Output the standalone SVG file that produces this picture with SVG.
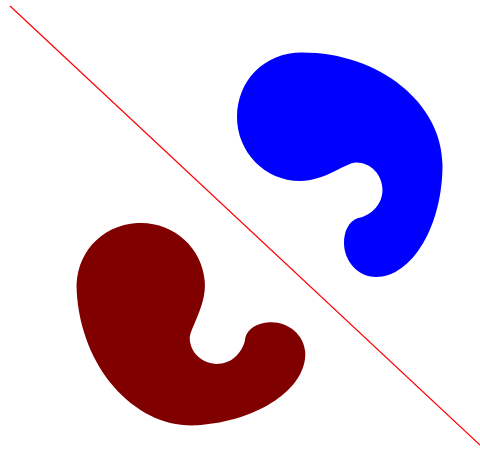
<svg xmlns="http://www.w3.org/2000/svg" xmlns:xlink="http://www.w3.org/1999/xlink" width="480" height="451" viewBox="0 0 480 451">
  <style>
    .mirror { stroke: #ff0000; stroke-width: 1.2; fill: none; }
    .original { fill: #0000ff; stroke: none; }
    .image { fill: #800000; stroke: none; }
  </style>
  <defs>
    <path id="kidney" d="M 237 117 C 237 81 264 52.5 302 52.5 C 380 52.5 442.5 104 442.5 165 C 442.5 226 412 277 376 277 C 358 277 344 261 344 243 C 344 231 349 221 358 218 C 367 217 382.5 207 382.5 190 C 382.5 175 371 162.5 356 162.5 C 346 162.5 325 181 300 181 C 265 181 237 152 237 117 Z"/>
  </defs>
  <rect width="480" height="451" fill="#ffffff"/>
  <line id="mirror-line" class="mirror" x1="10" y1="6" x2="480" y2="445"/>
  <g id="blue-shape">
    <use xlink:href="#kidney" href="#kidney" class="original"/>
  </g>
  <g id="reflected-shape">
    <use xlink:href="#kidney" href="#kidney" class="image" transform="matrix(0.0606 0.9978 0.9978 -0.0606 6.05 -6.27)"/>
  </g>
</svg>
